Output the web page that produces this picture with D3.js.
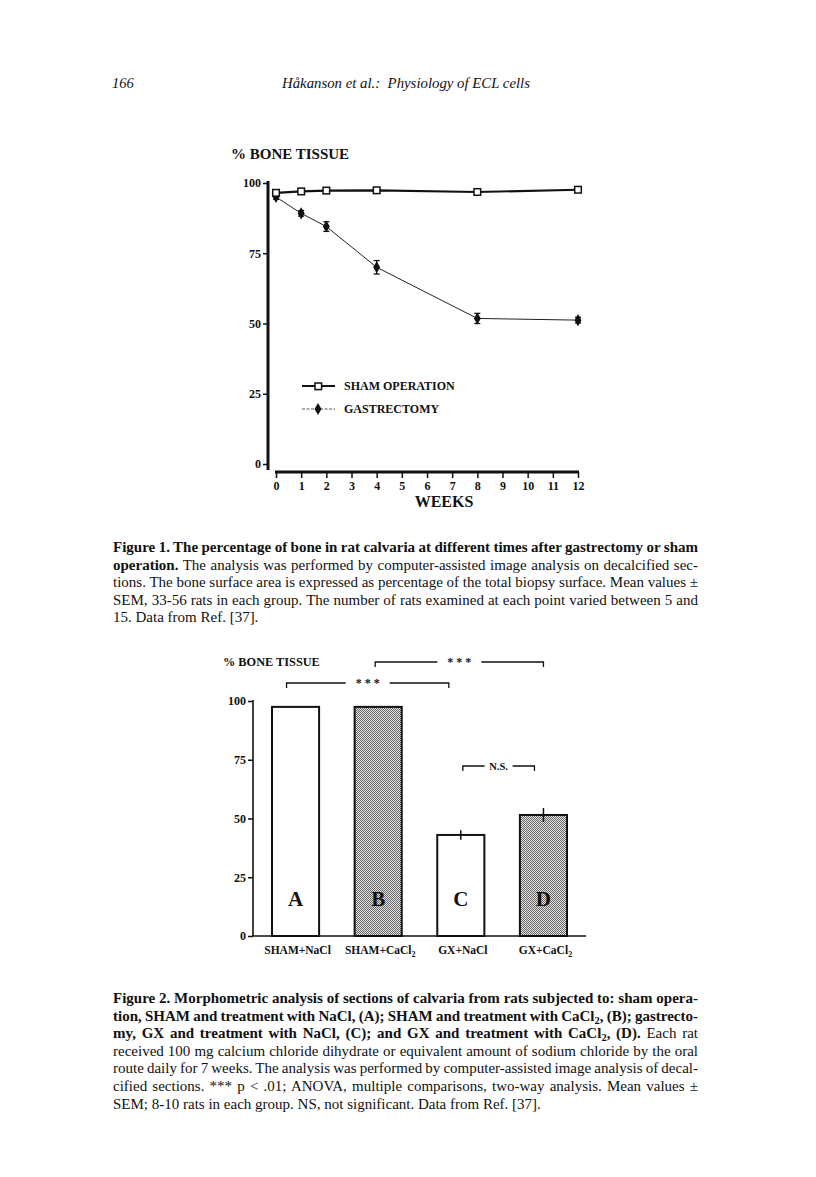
<!DOCTYPE html>
<html>
<head>
<meta charset="utf-8">
<script src="https://cdn.jsdelivr.net/npm/d3@7"></script>
<style>
body { margin: 0; background: #fff; }
svg { display: block; font-family: "Liberation Serif", "Times New Roman", serif; }
.tick text { font-family: "Liberation Serif", serif; font-weight: bold; font-size: 12px; fill: #111; }
.cap { font-size: 15px; fill: #111; }
</style>
</head>
<body>
<div id="page"></div>
<script>

// ---- figure 1 data
var weeks = [0, 1, 2, 4, 8, 12];
var sham = [96.5, 97, 97.3, 97.4, 96.8, 97.6];
var gastrectomy = [95, 89.2, 84.5, 70, 51.8, 51.2];
var gastrectomySem = [0.8, 1, 1.7, 2.4, 1.8, 1];
var weekTicks = [0, 1, 2, 3, 4, 5, 6, 7, 8, 9, 10, 11, 12];
var pctTicks = [0, 25, 50, 75, 100];
var seriesNames = ["SHAM OPERATION", "GASTRECTOMY"];

// ---- figure 2 data
var groups = ["SHAM+NaCl", "SHAM+CaCl2", "GX+NaCl", "GX+CaCl2"];
var groupLetters = ["A", "B", "C", "D"];
var groupValues = [97.5, 97.5, 43, 51.5];
var groupSem = [0, 0, 2, 3];
var groupPatterned = [false, true, false, true];
var sigLabels = ["* * *", "* * *", "N.S."];

var W = 816, H = 1177;

var svg = d3.select('#page').append('svg')
            .attr("width", W)
            .attr("height", H);

var defs = svg.append("defs");
var pat = defs.append("pattern")
              .attr("id", "stipple")
              .attr("width", 2).attr("height", 2)
              .attr("patternUnits", "userSpaceOnUse");
pat.append("rect").attr("width", 2).attr("height", 2).attr("fill", "#e4e4e4");
pat.append("rect").attr("width", 1).attr("height", 1).attr("fill", "#666");
pat.append("rect").attr("x", 1).attr("y", 1).attr("width", 1).attr("height", 1).attr("fill", "#666");

// page header
svg.append("text").attr("x", 112).attr("y", 88)
   .attr("font-style", "italic").attr("font-size", "14.5px").attr("fill", "#111")
   .text("166");
svg.append("text").attr("x", 282).attr("y", 88)
   .attr("font-style", "italic").attr("font-size", "14.8px").attr("fill", "#111")
   .attr("xml:space", "preserve")
   .text("Håkanson et al.:  Physiology of ECL cells");

// =================== figure 1 ===================
var x1 = d3.scaleLinear().domain([0, 12]).range([276, 578]);
var y1 = d3.scaleLinear().domain([0, 100]).range([464, 183]);

var fig1 = svg.append("g");

fig1.append("text").attr("x", 231).attr("y", 159)
    .attr("font-weight", "bold").attr("font-size", "15px").attr("fill", "#111")
    .text("% BONE TISSUE");

// y axis
var yAxis1 = fig1.append("g").attr("transform", "translate(268,0)")
                 .call(d3.axisLeft(y1).tickValues(pctTicks).tickSize(5).tickSizeOuter(0).tickPadding(2));
yAxis1.select(".domain").remove();
yAxis1.selectAll(".tick line").attr("stroke", "#111").attr("stroke-width", 1.5);
fig1.append("line").attr("x1", 268).attr("x2", 268)
    .attr("y1", y1(100) - 2).attr("y2", y1(0) + 6)
    .attr("stroke", "#111").attr("stroke-width", 3);

// x axis
var xAxis1 = fig1.append("g").attr("transform", "translate(0,472)")
                 .call(d3.axisBottom(x1).tickValues(weekTicks).tickSize(6).tickSizeOuter(0).tickPadding(3));
xAxis1.select(".domain").remove();
xAxis1.selectAll(".tick line").attr("stroke", "#111").attr("stroke-width", 1.5);
fig1.append("line").attr("x1", x1(0) - 1).attr("x2", x1(12) + 1)
    .attr("y1", 472).attr("y2", 472)
    .attr("stroke", "#111").attr("stroke-width", 3);

fig1.append("text").attr("x", 444).attr("y", 507)
    .attr("text-anchor", "middle").attr("font-weight", "bold").attr("font-size", "16px").attr("fill", "#111")
    .text("WEEKS");

var shamData = weeks.map(function(w, i) { return {week: w, val: sham[i]}; });
var gxData = weeks.map(function(w, i) { return {week: w, val: gastrectomy[i], sem: gastrectomySem[i]}; });

var line1 = d3.line()
              .x(function(d) { return x1(d.week); })
              .y(function(d) { return y1(d.val); });

fig1.append("path").datum(gxData).attr("d", line1)
    .attr("fill", "none").attr("stroke", "#222").attr("stroke-width", 1);
fig1.append("path").datum(shamData).attr("d", line1)
    .attr("fill", "none").attr("stroke", "#111").attr("stroke-width", 2.2);

// error bars
var eb = fig1.selectAll(".eb").data(gxData).enter().append("g").attr("class", "eb");
eb.append("line")
  .attr("x1", function(d) { return x1(d.week); }).attr("x2", function(d) { return x1(d.week); })
  .attr("y1", function(d) { return y1(d.val + d.sem); }).attr("y2", function(d) { return y1(d.val - d.sem); })
  .attr("stroke", "#111").attr("stroke-width", 1.3);
eb.append("line")
  .attr("x1", function(d) { return x1(d.week) - 3; }).attr("x2", function(d) { return x1(d.week) + 3; })
  .attr("y1", function(d) { return y1(d.val + d.sem); }).attr("y2", function(d) { return y1(d.val + d.sem); })
  .attr("stroke", "#111").attr("stroke-width", 1.3);
eb.append("line")
  .attr("x1", function(d) { return x1(d.week) - 3; }).attr("x2", function(d) { return x1(d.week) + 3; })
  .attr("y1", function(d) { return y1(d.val - d.sem); }).attr("y2", function(d) { return y1(d.val - d.sem); })
  .attr("stroke", "#111").attr("stroke-width", 1.3);

var diamond = d3.symbol().type(d3.symbolDiamond).size(42);
fig1.selectAll(".gx").data(gxData).enter().append("path")
    .attr("transform", function(d) { return "translate(" + x1(d.week) + "," + y1(d.val) + ")"; })
    .attr("d", diamond).attr("fill", "#111");

fig1.selectAll(".sq").data(shamData).enter().append("rect")
    .attr("x", function(d) { return x1(d.week) - 3.3; })
    .attr("y", function(d) { return y1(d.val) - 3.3; })
    .attr("width", 6.6).attr("height", 6.6)
    .attr("fill", "#fff").attr("stroke", "#111").attr("stroke-width", 1.5);

// legend
var lg = fig1.append("g");
lg.append("line").attr("x1", 302).attr("x2", 335).attr("y1", 386).attr("y2", 386)
  .attr("stroke", "#111").attr("stroke-width", 2);
lg.append("rect").attr("x", 315).attr("y", 383).attr("width", 6.6).attr("height", 6.6)
  .attr("fill", "#fff").attr("stroke", "#111").attr("stroke-width", 1.5);
lg.append("line").attr("x1", 302).attr("x2", 335).attr("y1", 409).attr("y2", 409)
  .attr("stroke", "#555").attr("stroke-width", 1).attr("stroke-dasharray", "3,1.5");
lg.append("path").attr("transform", "translate(318,409)").attr("d", diamond).attr("fill", "#111");
lg.selectAll(".lt").data(seriesNames).enter().append("text")
  .attr("x", 344).attr("y", function(d, i) { return 390 + i * 23; })
  .attr("font-weight", "bold").attr("font-size", "12px").attr("fill", "#111")
  .text(function(d) { return d; });

// =================== figure 2 ===================
var x2 = d3.scaleBand().domain(groups).range([272, 567]).paddingInner(0.43).paddingOuter(0);
var y2 = d3.scaleLinear().domain([0, 100]).range([936, 701]);

var fig2 = svg.append("g");

fig2.append("text").attr("x", 223).attr("y", 666)
    .attr("font-weight", "bold").attr("font-size", "12.3px").attr("fill", "#111")
    .text("% BONE TISSUE");

var yAxis2 = fig2.append("g").attr("transform", "translate(253,0)")
                 .call(d3.axisLeft(y2).tickValues(pctTicks).tickSize(5).tickSizeOuter(0).tickPadding(2));
yAxis2.select(".domain").remove();
yAxis2.selectAll(".tick line").attr("stroke", "#111").attr("stroke-width", 1.5);
fig2.append("line").attr("x1", 253).attr("x2", 253).attr("y1", y2(100) - 1).attr("y2", y2(0))
    .attr("stroke", "#111").attr("stroke-width", 1.6);
fig2.append("line").attr("x1", 252).attr("x2", 586).attr("y1", y2(0)).attr("y2", y2(0))
    .attr("stroke", "#111").attr("stroke-width", 1.6);

var barData = groups.map(function(g, i) {
  return {g: g, letter: groupLetters[i], val: groupValues[i], sem: groupSem[i], pat: groupPatterned[i]};
});

fig2.selectAll(".bar").data(barData).enter().append("rect")
    .attr("x", function(d) { return x2(d.g); })
    .attr("y", function(d) { return y2(d.val); })
    .attr("width", x2.bandwidth())
    .attr("height", function(d) { return y2(0) - y2(d.val); })
    .attr("fill", function(d) { return d.pat ? "url(#stipple)" : "#fff"; })
    .attr("stroke", "#111").attr("stroke-width", 2);

fig2.selectAll(".err").data(barData.filter(function(d) { return d.sem > 0; })).enter().append("line")
    .attr("x1", function(d) { return x2(d.g) + x2.bandwidth() / 2; })
    .attr("x2", function(d) { return x2(d.g) + x2.bandwidth() / 2; })
    .attr("y1", function(d) { return y2(d.val + d.sem); })
    .attr("y2", function(d) { return y2(d.val - d.sem); })
    .attr("stroke", "#111").attr("stroke-width", 1.5);

fig2.selectAll(".letter").data(barData).enter().append("text")
    .attr("x", function(d) { return x2(d.g) + x2.bandwidth() / 2; })
    .attr("y", 906)
    .attr("text-anchor", "middle").attr("font-weight", "bold").attr("font-size", "21px").attr("fill", "#111")
    .text(function(d) { return d.letter; });

var catLabels = fig2.selectAll(".cat").data(barData).enter().append("text")
    .attr("x", function(d) { return x2(d.g) + x2.bandwidth() / 2 + 2; })
    .attr("y", 954)
    .attr("text-anchor", "middle").attr("font-weight", "bold").attr("font-size", "11.5px").attr("fill", "#111");
catLabels.each(function(d) {
  var t = d3.select(this);
  if (d.g.slice(-1) === "2") {
    t.append("tspan").text(d.g.slice(0, -1));
    t.append("tspan").attr("font-size", "8px").attr("dy", 3).text("2");
  } else {
    t.text(d.g);
  }
});

// significance brackets
function mid(i) { return x2(groups[i]) + x2.bandwidth() / 2; }
var brackets = [
  {x0: mid(1) - 3, x1: mid(3), y: 662, label: sigLabels[0], gap: 22, fs: "12px"},
  {x0: mid(0) - 9, x1: mid(2) - 12, y: 683, label: sigLabels[1], gap: 22, fs: "12px"},
  {x0: mid(2) + 2, x1: mid(3) - 9, y: 766, label: sigLabels[2], gap: 14, fs: "10.5px"}
];
var br = fig2.selectAll(".br").data(brackets).enter().append("g");
br.append("path")
  .attr("d", function(d) {
    var c = (d.x0 + d.x1) / 2;
    return "M" + d.x0 + "," + (d.y + 5) + "V" + d.y + "H" + (c - d.gap) +
           "M" + (c + d.gap) + "," + d.y + "H" + d.x1 + "V" + (d.y + 5);
  })
  .attr("fill", "none").attr("stroke", "#111").attr("stroke-width", 1.3);
br.append("text")
  .attr("x", function(d) { return (d.x0 + d.x1) / 2; })
  .attr("y", function(d) { return d.y + 4; })
  .attr("text-anchor", "middle").attr("font-weight", "bold").attr("fill", "#111")
  .attr("font-size", function(d) { return d.fs; })
  .text(function(d) { return d.label; });

// =================== captions ===================
var cap1 = [
  [["b", "Figure 1. The percentage of bone in rat calvaria at different times after gastrectomy or sham"]],
  [["b", "operation."], ["n", " The analysis was performed by computer-assisted image analysis on decalcified sec-"]],
  [["n", "tions. The bone surface area is expressed as percentage of the total biopsy surface. Mean values ±"]],
  [["n", "SEM, 33-56 rats in each group. The number of rats examined at each point varied between 5 and"]],
  [["n", "15. Data from Ref. [37]."]]
];
var cap2 = [
  [["b", "Figure 2. Morphometric analysis of sections of calvaria from rats subjected to: sham opera-"]],
  [["b", "tion, SHAM and treatment with NaCl, (A); SHAM and treatment with CaCl"], ["bs", "2"], ["b", ", (B); gastrecto-"]],
  [["b", "my, GX and treatment with NaCl, (C); and GX and treatment with CaCl"], ["bs", "2"], ["b", ", (D)."], ["n", " Each rat"]],
  [["n", "received 100 mg calcium chloride dihydrate or equivalent amount of sodium chloride by the oral"]],
  [["n", "route daily for 7 weeks. The analysis was performed by computer-assisted image analysis of decal-"]],
  [["n", "cified sections. *** p < .01; ANOVA, multiple comparisons, two-way analysis. Mean values ±"]],
  [["n", "SEM; 8-10 rats in each group. NS, not  significant. Data from Ref. [37]."]]
];

function caption(lines, x, y0, lead, width) {
  lines.forEach(function(parts, i) {
    var t = svg.append("text").attr("class", "cap").attr("x", x).attr("y", y0 + i * lead);
    var full = "";
    var shifted = false;
    parts.forEach(function(p) {
      var s = t.append("tspan").text(p[1]);
      full += p[1];
      if (p[0] === "b" || p[0] === "bs") s.attr("font-weight", "bold");
      if (p[0] === "bs") { s.attr("font-size", "10.5px").attr("dy", 3); shifted = true; }
      else if (shifted) { s.attr("dy", -3); shifted = false; }
    });
    if (i < lines.length - 1) {
      var len = t.node().getComputedTextLength();
      var spaces = full.split(" ").length - 1;
      t.style("word-spacing", ((width - len) / spaces) + "px");
    }
  });
}

caption(cap1, 113, 552, 17.5, 585);
caption(cap2, 113, 1003, 17.6, 585);

</script>
</body>
</html>
